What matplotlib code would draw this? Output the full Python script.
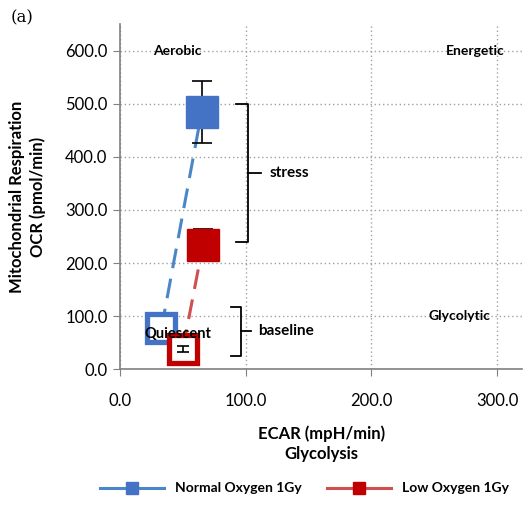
import matplotlib.pyplot as plt
from matplotlib.lines import Line2D

plt.rcParams['font.family'] = ['Lato', 'DejaVu Sans']

# ECAR / OCR at baseline and under stress for each condition
conditions = ['Normal Oxygen 1Gy', 'Low Oxygen 1Gy']
ecar_baseline = [33.0, 50.0]
ocr_baseline = [77.0, 38.0]
ecar_stress = [65.0, 66.0]
ocr_stress = [485.0, 234.0]
ocr_baseline_err = [0.0, 5.0]
ocr_stress_err = [58.0, 30.0]

marker_colors = ['#4472C4', '#C00000']
line_colors = ['#4A86C8', '#D05050']

fig = plt.figure(figsize=(5.25, 5.07), dpi=100)
ax = fig.add_axes([0.2286, 0.272, 0.766, 0.680])

for i in range(len(conditions)):
    ax.plot([ecar_baseline[i], ecar_stress[i]], [ocr_baseline[i], ocr_stress[i]],
            linestyle=(0, (6.5, 3.5)), color=line_colors[i], lw=2.2, zorder=2)
    ax.errorbar(ecar_stress[i], ocr_stress[i], yerr=ocr_stress_err[i], fmt='none',
                ecolor='black', elinewidth=1.2, capsize=7, capthick=1.2, zorder=3)
    if ocr_baseline_err[i] > 0:
        ax.errorbar(ecar_baseline[i], ocr_baseline[i], yerr=ocr_baseline_err[i], fmt='none',
                    ecolor='black', elinewidth=1.2, capsize=4, capthick=1.2, zorder=5)
    ax.plot(ecar_stress[i], ocr_stress[i], marker='s', ms=23, color=marker_colors[i],
            mec=marker_colors[i], zorder=4)
    ax.plot(ecar_baseline[i], ocr_baseline[i], marker='s', ms=20, mfc='white',
            mec=marker_colors[i], mew=3.8, zorder=4)

ax.set_xlim(0, 320)
ax.set_ylim(0, 650)
ax.set_xticks([0, 100, 200, 300])
ax.set_yticks(range(0, 700, 100))
ax.set_xticklabels([f'{v:.1f}' for v in ax.get_xticks()], fontsize=12)
ax.set_yticklabels([f'{v:.1f}' for v in ax.get_yticks()], fontsize=12)
ax.tick_params(axis='x', length=5, color='#808080', pad=12)
ax.tick_params(axis='y', length=5, color='#808080', pad=4)
ax.grid(True, linestyle=(0, (1, 2)), color='#A0A0A0', lw=1)
ax.set_axisbelow(True)
for side in ['top', 'right']:
    ax.spines[side].set_visible(False)
for side in ['left', 'bottom']:
    ax.spines[side].set_color('#808080')
    ax.spines[side].set_linewidth(1.2)

ax.set_xlabel('ECAR (mpH/min)\nGlycolysis', fontsize=12, fontweight='bold', labelpad=12,
              linespacing=1.3)
ax.set_ylabel('Mitochondrial Respiration\nOCR (pmol/min)', fontsize=12, fontweight='bold',
              labelpad=14, linespacing=1.3)

# quadrant labels
ax.text(46, 600, 'Aerobic', fontsize=10, fontweight='bold', ha='center', va='center')
ax.text(283, 600, 'Energetic', fontsize=10, fontweight='bold', ha='center', va='center')
ax.text(270, 100, 'Glycolytic', fontsize=10, fontweight='bold', ha='center', va='center')
ax.text(46, 66, 'Quiescent', fontsize=10.5, fontweight='bold', ha='center', va='center', zorder=6)

# brackets
def bracket(x0, x1, y0, y1, label, tx):
    xm = (x0 + x1) / 2
    ax.plot([x0, xm, xm, x0], [y1, y1, y0, y0], color='black', lw=1.3, clip_on=False)
    ym = (y0 + y1) / 2
    ax.plot([xm, x1], [ym, ym], color='black', lw=1.3, clip_on=False)
    ax.text(tx, ym, label, fontsize=11, fontweight='bold', va='center')

bracket(92, 112, 240, 500, 'stress', 119)
bracket(88, 104, 25, 118, 'baseline', 110)

fig.text(0.02, 0.955, '(a)', fontsize=12, family='DejaVu Serif')

handles = [Line2D([0], [0], color=line_colors[i], lw=2.2, marker='s', ms=9,
                  mfc=marker_colors[i], mec=marker_colors[i]) for i in range(len(conditions))]
fig.legend(handles, conditions, loc='lower center', bbox_to_anchor=(0.58, 0.0), ncol=2,
           frameon=False, handlelength=4.6, handletextpad=0.8, columnspacing=1.8,
           prop={'weight': 'bold', 'size': 10})

fig.savefig('out.png', dpi=100)
